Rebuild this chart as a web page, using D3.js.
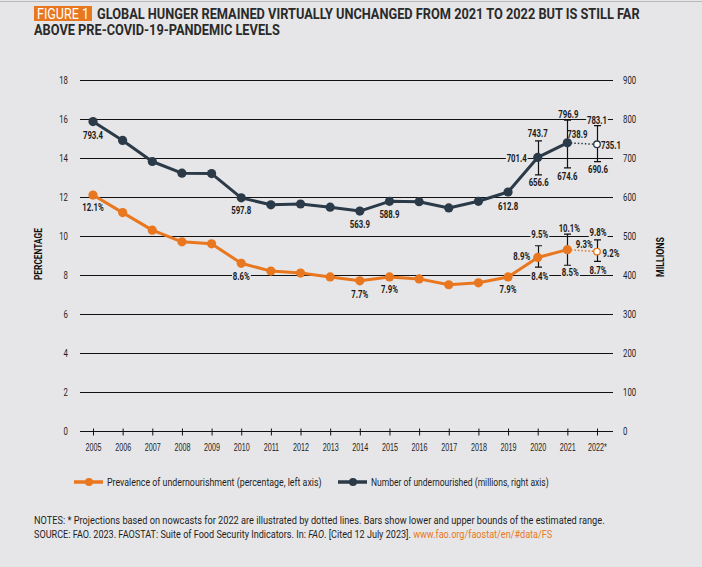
<!DOCTYPE html>
<html>
<head>
<meta charset="utf-8">
<script src="https://cdn.jsdelivr.net/npm/d3@7"></script>
<style>
  html, body { margin: 0; padding: 0; background: #e6e6e8; }
  svg { display: block; font-family: Roboto, "Liberation Sans", sans-serif; }
</style>
</head>
<body>
<div id="chart"></div>
<script>
const width = 702;
const height = 567;

const years = ["2005", "2006", "2007", "2008", "2009", "2010", "2011", "2012", "2013",
  "2014", "2015", "2016", "2017", "2018", "2019", "2020", "2021", "2022*"];
const pctValues = [12.1, 11.2, 10.3, 9.7, 9.6, 8.6, 8.2, 8.1, 7.9, 7.7, 7.9, 7.8, 7.5, 7.6, 7.9, 8.9, 9.3, 9.2];
const numValues = [793.4, 745, 691, 661, 660, 597.8, 580, 582, 574, 563.9, 588.9, 588, 572, 589, 612.8, 701.4, 738.9, 735.1];
const pctTicks = [0, 2, 4, 6, 8, 10, 12, 14, 16, 18];
const numTicks = [0, 100, 200, 300, 400, 500, 600, 700, 800, 900];

// estimated ranges for the last three years
const rangeYears = ["2020", "2021", "2022*"];
const pctLow = [8.4, 8.5, 8.7];
const pctHigh = [9.5, 10.1, 9.8];
const numLow = [656.6, 674.6, 690.6];
const numHigh = [743.7, 796.9, 783.1];

const orange = "#e8771f";
const navy = "#2b3a48";
const bg = "#e6e6e8";
const ink = "#1e1e1e";
const SX = 0.78; // condensed look

const svg = d3.select("#chart").append("svg")
  .attr("width", width)
  .attr("height", height);

svg.append("rect").attr("width", width).attr("height", height).attr("fill", bg);
svg.append("line").attr("x1", 0).attr("x2", width).attr("y1", 1.5).attr("y2", 1.5)
  .attr("stroke", "#b8b8bc").attr("stroke-width", 1);

// text squeezed horizontally so it spans len pixels from x
function fitText(parent, x, y, parts, size, len, weight) {
  const t = parent.append("text")
    .style("font-size", size + "px").style("font-weight", weight || "normal")
    .attr("fill", ink);
  (typeof parts === "string" ? [{ t: parts }] : parts).forEach((p) => {
    const s = t.append("tspan").text(p.t);
    if (p.fill) s.attr("fill", p.fill);
    if (p.italic) s.style("font-style", "italic");
  });
  const w = t.node().getComputedTextLength();
  t.attr("transform", `translate(${x},${y}) scale(${len / w},1)`);
  return t;
}

// squeezed text placed at (x, y) baseline
function sqText(parent, x, y, str, size, anchor, weight) {
  return parent.append("text")
    .attr("transform", `translate(${x},${y}) scale(${SX},1)`)
    .attr("text-anchor", anchor || "middle")
    .style("font-size", size + "px").style("font-weight", weight || "normal")
    .attr("fill", ink).text(str);
}

// title
svg.append("rect").attr("x", 34).attr("y", 6).attr("width", 58).attr("height", 15).attr("fill", orange);
fitText(svg, 37, 19, "FIGURE 1", 14, 52).attr("fill", "#fff");
fitText(svg, 97, 19, "GLOBAL HUNGER REMAINED VIRTUALLY UNCHANGED FROM 2021 TO 2022 BUT IS STILL FAR", 15, 543, "bold")
  .attr("fill", "#2a2a2a");
fitText(svg, 34, 35, "ABOVE PRE-COVID-19-PANDEMIC LEVELS", 15, 246, "bold").attr("fill", "#2a2a2a");

const x = d3.scalePoint().domain(years).range([93, 597]);
const yL = d3.scaleLinear().domain([0, 18]).range([431, 80]);
const yR = d3.scaleLinear().domain([0, 900]).range([431, 80]);
const crisp = (v) => Math.round(v) + 0.5;

// gridlines
svg.append("g").selectAll("line")
  .data(pctTicks.filter((d) => d > 0))
  .join("line")
  .attr("x1", 80).attr("x2", 613)
  .attr("y1", (d) => crisp(yL(d))).attr("y2", (d) => crisp(yL(d)))
  .attr("stroke", "#111").attr("stroke-width", 1);

// x axis
const xAxis = svg.append("g")
  .attr("transform", `translate(0,${crisp(yL(0))})`)
  .call(d3.axisBottom(x).tickSizeInner(3).tickSizeOuter(0).tickPadding(9));
xAxis.select(".domain").attr("d", "M80,0H613").attr("stroke", "#111");
xAxis.selectAll(".tick line").attr("y1", -3).attr("y2", 4).attr("stroke", "#111");
xAxis.selectAll(".tick text").style("font-size", "10px").attr("fill", ink)
  .style("font-family", "inherit").attr("transform", "scale(0.72,1)");

// left / right tick labels
const tl = svg.append("g");
pctTicks.forEach((d) => sqText(tl, 68, yL(d) + 3.5, d, 10, "end"));
numTicks.forEach((d) => sqText(tl, 623, yR(d) + 3.5, d, 10, "start"));

const percentage = fitText(svg, 0, 0, "PERCENTAGE", 10, 52, "bold").attr("fill", "#111");
percentage.attr("transform", `translate(42,280) rotate(-90) ${percentage.attr("transform").replace("translate(0,0)", "")}`);
const millions = fitText(svg, 0, 0, "MILLIONS", 10, 40, "bold").attr("fill", "#111");
millions.attr("transform", `translate(664,277) rotate(-90) ${millions.attr("transform").replace("translate(0,0)", "")}`);

// label placement (dx, dy from the value position)
const pctLabelAt = { 0: [0, 12], 5: [0, 13], 9: [0, 13.5], 10: [0, 12.5], 14: [0, 12.5], 15: [-16, -1], 16: [17, -5], 17: [14, 2] };
const numLabelAt = { 0: [0, 14], 5: [0, 13], 9: [0, 13], 10: [0, 13], 14: [0, 14], 15: [-21, 1.5], 16: [10, -8], 17: [14, 1] };
const pctHighAt = [[2, -11], [2, -6], [1, -7]];
const pctLowAt = [[2, 9.5], [3, 7], [1, 9]];
const numHighAt = [[0, -7], [1, -6], [0, -5.5]];
const numLowAt = [[1, 8], [0, 8.5], [1, 8]];

const labels = [];
pctValues.forEach((v, i) => {
  if (pctLabelAt[i]) labels.push({ x: x(years[i]) + pctLabelAt[i][0], y: yL(v) + pctLabelAt[i][1], t: v.toFixed(1) + "%" });
});
numValues.forEach((v, i) => {
  if (numLabelAt[i]) labels.push({ x: x(years[i]) + numLabelAt[i][0], y: yR(v) + numLabelAt[i][1], t: v.toFixed(1) });
});
rangeYears.forEach((yr, j) => {
  labels.push({ x: x(yr) + pctHighAt[j][0], y: yL(pctHigh[j]) + pctHighAt[j][1], t: pctHigh[j].toFixed(1) + "%" });
  labels.push({ x: x(yr) + pctLowAt[j][0], y: yL(pctLow[j]) + pctLowAt[j][1], t: pctLow[j].toFixed(1) + "%" });
  labels.push({ x: x(yr) + numHighAt[j][0], y: yR(numHigh[j]) + numHighAt[j][1], t: numHigh[j].toFixed(1) });
  labels.push({ x: x(yr) + numLowAt[j][0], y: yR(numLow[j]) + numLowAt[j][1], t: numLow[j].toFixed(1) });
});

// label backgrounds knock out the gridlines
const bgLayer = svg.append("g");

const pctLine = d3.line().x((d, i) => x(years[i])).y((d) => yL(d));
const numLine = d3.line().x((d, i) => x(years[i])).y((d) => yR(d));

function drawSeries(values, line, y, color, lows, highs) {
  const g = svg.append("g");
  g.append("path").datum(values.slice(0, 17))
    .attr("d", line).attr("fill", "none").attr("stroke", color).attr("stroke-width", 3)
    .attr("stroke-linejoin", "round");
  g.append("path")
    .attr("d", `M${x(years[16])},${y(values[16])}L${x(years[17])},${y(values[17])}`)
    .attr("fill", "none").attr("stroke", color).attr("stroke-width", 1.5).attr("stroke-dasharray", "1.5,2");
  rangeYears.forEach((yr, j) => {
    const cx = Math.round(x(yr)) + 0.5;
    g.append("path")
      .attr("d", `M${cx},${y(lows[j])}V${y(highs[j])}M${cx - 3.5},${y(lows[j])}H${cx + 3.5}M${cx - 3.5},${y(highs[j])}H${cx + 3.5}`)
      .attr("stroke", "#111").attr("stroke-width", 1.2).attr("fill", "none");
  });
  g.selectAll("circle").data(values).join("circle")
    .attr("cx", (d, i) => x(years[i])).attr("cy", (d) => y(d))
    .attr("r", (d, i) => (i === 17 ? 3.3 : 4.6))
    .attr("fill", (d, i) => (i === 17 ? "#fff" : color))
    .attr("stroke", (d, i) => (i === 17 ? color : "none"))
    .attr("stroke-width", 1.3);
}
drawSeries(pctValues, pctLine, yL, orange, pctLow, pctHigh);
drawSeries(numValues, numLine, yR, navy, numLow, numHigh);

const lblLayer = svg.append("g");
labels.forEach((d) => {
  const t = sqText(lblLayer, d.x, d.y + 3.5, d.t, 10, "middle", "bold").attr("fill", "#1a1a1a");
  const b = t.node().getBBox();
  bgLayer.append("rect")
    .attr("x", d.x + (b.x - 1) * SX).attr("y", d.y + 3.5 + b.y + 1)
    .attr("width", (b.width + 2) * SX).attr("height", b.height - 2).attr("fill", bg);
});

// legend
const legend = svg.append("g").attr("transform", "translate(0,482)");
[[74, orange, "Prevalence of undernourishment (percentage, left axis)", 215],
 [338, navy, "Number of undernourished (millions, right axis)", 178]].forEach(([lx, c, t, len]) => {
  legend.append("line").attr("x1", lx).attr("x2", lx + 29).attr("stroke", c).attr("stroke-width", 3.5);
  legend.append("circle").attr("cx", lx + 15).attr("r", 4).attr("fill", c);
  fitText(legend, lx + 33, 3.5, t, 10.5, len);
});

// notes
fitText(svg, 34, 524, "NOTES: * Projections based on nowcasts for 2022 are illustrated by dotted lines. Bars show lower and upper bounds of the estimated range.", 10, 571);
fitText(svg, 34, 538, [
  { t: "SOURCE: FAO. 2023. FAOSTAT: Suite of Food Security Indicators. In: " },
  { t: "FAO", italic: true },
  { t: ". [Cited 12 July 2023]. " },
  { t: "www.fao.org/faostat/en/#data/FS", fill: orange }
], 10, 519);
</script>
</body>
</html>
